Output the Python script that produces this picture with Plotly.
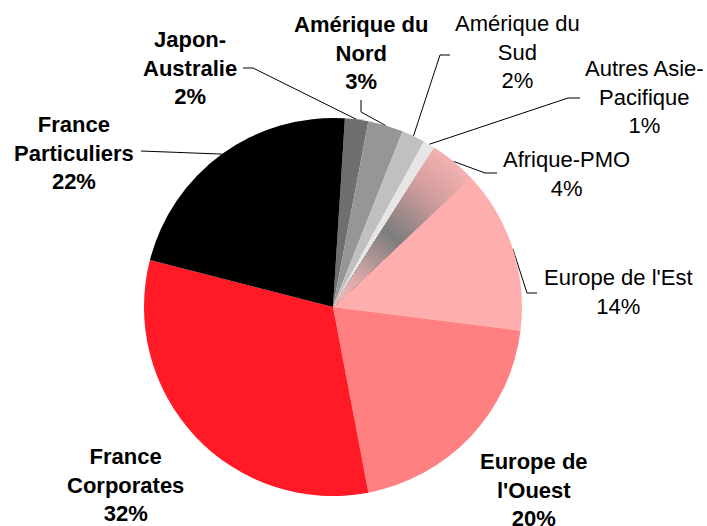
import numpy as np
import plotly.graph_objects as go

W, H = 707, 526

# slices, clockwise from just right of 12 o'clock
labels = ["Japon-Australie", "Amérique du Nord", "Amérique du Sud", "Autres Asie-Pacifique",
          "Afrique-PMO", "Europe de l'Est", "Europe de l'Ouest", "France Corporates",
          "France Particuliers"]
values = [2, 3, 2, 1, 4, 14, 20, 32, 22]
label_text = ["Japon-<br>Australie", "Amérique du<br>Nord", "Amérique du<br>Sud",
              "Autres Asie-<br>Pacifique", "Afrique-PMO", "Europe de l'Est",
              "Europe de<br>l'Ouest", "France<br>Corporates", "France<br>Particuliers"]
bold = [True, True, False, False, False, False, True, True, True]
colors = ["#6f6f6f", "#969696", "#c0c0c0", "#e6e6e6", "#f4b0b0",
          "#ffaeae", "#ff8080", "#ff1a25", "#000000"]

# pie geometry (pixels)
cx, cy, R = 333, 307, 189
rotation = 3.6

# label block centres and leader elbows (pixels), None = no leader
label_pos = [(190, 68), (361, 53), (517, 52), (644, 97), (566, 174),
             (618, 292), (534, 490), (125, 485), (74, 153)]
leaders = [[(243, 68), (253, 68)], [(361, 100), (361, 112)], [(450, 55), (440, 55)],
           [(580, 98), (568, 98)], [(497, 173), (485, 173)], [(537, 293), (527, 293)],
           None, None, [(141, 151)]]

# gradient of the Afrique-PMO slice (radius fraction -> colour)
grad_r = [0.0, 0.2, 0.5, 0.8, 1.0]
grad_rgb = np.array([(240, 190, 190), (220, 170, 170), (125, 125, 125),
                     (210, 158, 158), (244, 176, 176)])
GRAD_IDX = labels.index("Afrique-PMO")


def dom(f):
    return dict(x=[(cx - f * R) / W, (cx + f * R) / W],
                y=[(H - cy - f * R) / H, (H - cy + f * R) / H])


def grad_color(f):
    rgb = [np.interp(f, grad_r, grad_rgb[:, k]) for k in range(3)]
    return "rgb(%d,%d,%d)" % tuple(int(round(c)) for c in rgb)


fig = go.Figure()

# hidden pixel axes for leader lines / labels
fig.add_trace(go.Scatter(x=[0, W], y=[0, H], mode="markers",
                         marker=dict(opacity=0), hoverinfo="skip", showlegend=False))

fig.add_trace(go.Pie(
    labels=labels, values=values, sort=False, direction="clockwise",
    rotation=rotation, textinfo="none", hoverinfo="label+percent",
    marker=dict(colors=colors, line=dict(width=0)),
    domain=dom(1.0), showlegend=False,
))

# banded gradient: shrinking discs, only the gradient slice coloured
for f in np.linspace(0.98, 0.03, 48):
    ring_colors = ["rgba(0,0,0,0)"] * len(values)
    ring_colors[GRAD_IDX] = grad_color(f)
    fig.add_trace(go.Pie(
        labels=labels, values=values, sort=False, direction="clockwise",
        rotation=rotation, textinfo="none", hoverinfo="skip",
        marker=dict(colors=ring_colors, line=dict(width=0)),
        domain=dom(f), showlegend=False,
    ))

# leader lines to slice mid-angle on the rim
total = sum(values)
start = rotation
for i, v in enumerate(values):
    mid = np.radians(start + 360 * v / total / 2)
    start += 360 * v / total
    if leaders[i] is None:
        continue
    ex, ey = cx + R * np.sin(mid), cy - R * np.cos(mid)
    pts = leaders[i] + [(ex, ey)]
    fig.add_trace(go.Scatter(x=[p[0] for p in pts], y=[p[1] for p in pts], mode="lines",
                             line=dict(color="black", width=1), hoverinfo="skip",
                             showlegend=False))

for i, v in enumerate(values):
    txt = f"{label_text[i]}<br>{v}%"
    if bold[i]:
        txt = "<b>" + txt.replace("<br>", "</b><br><b>") + "</b>"
    fig.add_annotation(x=label_pos[i][0], y=label_pos[i][1], xref="x", yref="y",
                       text=txt, showarrow=False, xanchor="center", yanchor="middle",
                       align="center", font=dict(size=22, color="black"))

fig.update_layout(
    width=W, height=H,
    margin=dict(l=0, r=0, t=0, b=0),
    paper_bgcolor="white", plot_bgcolor="white",
    font=dict(family="Liberation Sans, Arial, sans-serif"),
    xaxis=dict(range=[0, W], visible=False, fixedrange=True),
    yaxis=dict(range=[H, 0], visible=False, fixedrange=True),
    showlegend=False,
)

# drop the default page margin so the figure sits at the window's corner
fig.write_html("out.html", config={"displayModeBar": False},
               post_script="document.body.style.margin='0';")
